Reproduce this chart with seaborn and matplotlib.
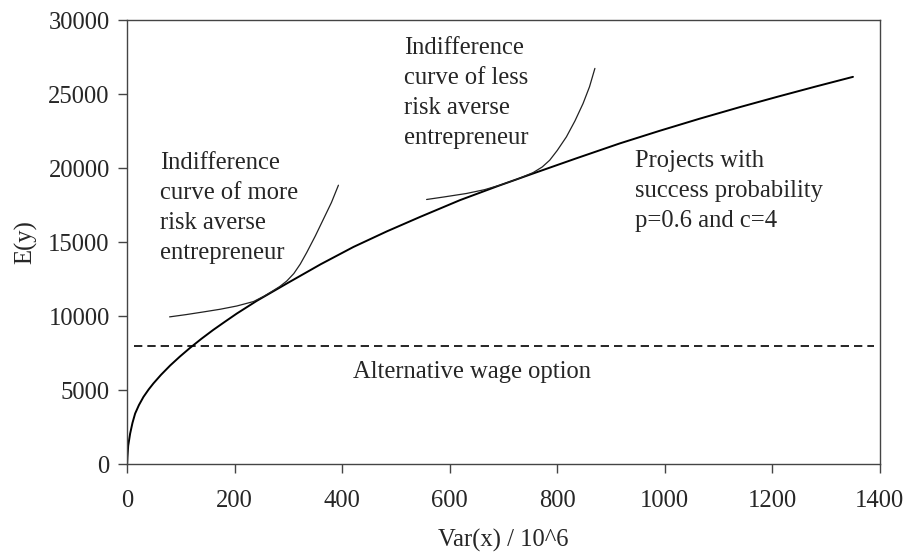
import matplotlib
matplotlib.use('Agg')
import matplotlib.pyplot as plt
import seaborn as sns
import pandas as pd

# Values
frontier_var = [0, 0.6, 2, 5.6, 10, 14.9, 22, 30.4, 40, 48.9, 63, 80, 98, 117,
                138, 160, 182, 204, 241, 297, 360, 421, 483, 545, 619, 690, 755,
                835, 916, 990, 1065, 1140, 1210, 1280, 1350]
frontier_ey = [0, 490, 1250, 2070, 2800, 3425, 4000, 4550, 5050, 5460, 6040,
               6670, 7270, 7860, 8470, 9070, 9630, 10180, 11035, 12210, 13510,
               14680, 15730, 16710, 17840, 18800, 19640, 20660, 21670, 22520,
               23345, 24130, 24830, 25510, 26170]

more_averse_var = [79, 110, 142, 173, 204, 235, 255, 270, 284, 297, 310, 322,
                   334, 350, 365, 380, 393]
more_averse_ey = [9955, 10110, 10290, 10470, 10690, 10990, 11360, 11690, 12010,
                  12380, 12880, 13520, 14300, 15420, 16550, 17680, 18850]

less_averse_var = [557, 590, 631, 665, 693, 725, 755, 772, 786, 800, 817, 833,
                   848, 860, 870]
less_averse_ey = [17885, 18060, 18290, 18550, 18850, 19250, 19700, 20080, 20540,
                  21200, 22115, 23200, 24370, 25500, 26740]

wage_var = [13, 1390]
wage_ey = [8000, 8000]

frontier = pd.DataFrame({'var': frontier_var, 'ey': frontier_ey})
more_averse = pd.DataFrame({'var': more_averse_var, 'ey': more_averse_ey})
less_averse = pd.DataFrame({'var': less_averse_var, 'ey': less_averse_ey})
wage = pd.DataFrame({'var': wage_var, 'ey': wage_ey})

sns.set_style('ticks')
plt.rcParams['font.family'] = ['Liberation Serif', 'DejaVu Serif']
fs = 17.7
ls = 1.47

fig, ax = plt.subplots(figsize=(9.08, 5.6), dpi=100)
fig.subplots_adjust(left=0.14, right=0.969, bottom=0.171, top=0.964)

sns.lineplot(data=frontier, x='var', y='ey', ax=ax, color='black', lw=1.4,
             estimator=None, sort=False)
sns.lineplot(data=more_averse, x='var', y='ey', ax=ax, color='#222222', lw=0.9,
             estimator=None, sort=False)
sns.lineplot(data=less_averse, x='var', y='ey', ax=ax, color='#222222', lw=0.9,
             estimator=None, sort=False)
sns.lineplot(data=wage, x='var', y='ey', ax=ax, color='black', lw=1.2,
             estimator=None, sort=False, linestyle=(0, (5, 3)))

ax.text(61, 21115, 'Indifference\ncurve of more\nrisk averse\nentrepreneur',
        fontsize=fs, va='top', ha='left', linespacing=ls)
ax.text(515, 28865, 'Indifference\ncurve of less\nrisk averse\nentrepreneur',
        fontsize=fs, va='top', ha='left', linespacing=ls)
ax.text(944, 21250, 'Projects with\nsuccess probability\np=0.6 and c=4',
        fontsize=fs, va='top', ha='left', linespacing=ls)
ax.text(421, 6946, 'Alternative wage option', fontsize=fs, va='top', ha='left')

ax.set_xlim(0, 1400)
ax.set_ylim(0, 30000)
ax.set_xticks(range(0, 1401, 200))
ax.set_yticks(range(0, 30001, 5000))
ax.set_xlabel('Var(x) / 10^6', fontsize=fs, labelpad=12)
ax.set_ylabel('E(y)', fontsize=fs, labelpad=8)
ax.tick_params(labelsize=fs, length=6.5, width=1, color='#444444')
ax.tick_params(axis='x', pad=12)
ax.tick_params(axis='y', pad=6)
for s in ax.spines.values():
    s.set_visible(True)
    s.set_color('#444444')
    s.set_linewidth(1)

fig.savefig('out.png', dpi=100)
